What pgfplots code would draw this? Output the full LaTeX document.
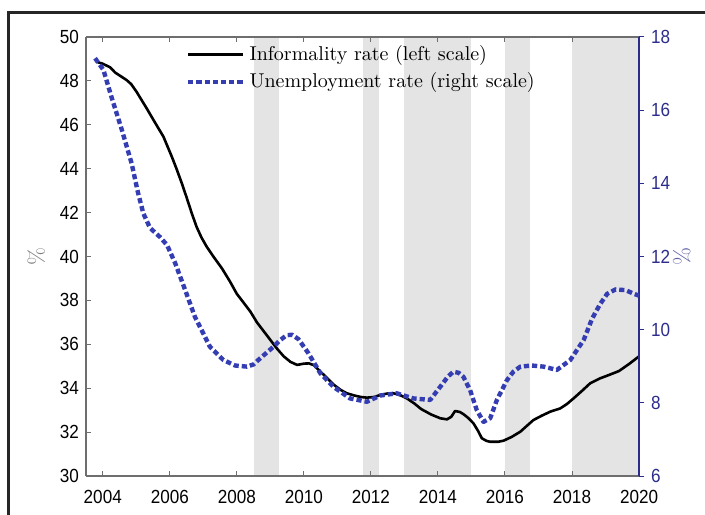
\documentclass[border=0pt]{standalone}
\usepackage{fontspec}
\usepackage{pgfplots}
\pgfplotsset{compat=1.18}
\newfontfamily\tickfont[FakeStretch=0.9]{Liberation Sans}
\definecolor{bandgray}{RGB}{228,228,228}
\definecolor{ublue}{RGB}{52,62,178}
\definecolor{rblue}{RGB}{44,44,140}
\definecolor{axgray}{RGB}{110,110,110}
\begin{document}
\begin{tikzpicture}
\useasboundingbox (-43pt,-19pt) rectangle (309.5pt,238pt);
\draw[line width=1.5pt,black!85] (-38.5pt,-40pt) -- (-38.5pt,231.5pt) -- (330pt,231.5pt);
\begin{axis}[
  scale only axis, width=276.5pt, height=219.5pt,
  at={(0pt,0pt)}, anchor=south west,
  xmin=2003.5, xmax=2020, ymin=30, ymax=50,
  xtick={2004,2006,...,2020}, ytick={30,32,...,50},
  axis y line*=left,
  axis on top,
  tick align=inside, major tick length=2.5pt,
  axis line style={axgray, line width=0.6pt},
  tick style={axgray, line width=0.5pt},
  ticklabel style={font=\tickfont\fontsize{9.5}{11}\selectfont, black},
  xticklabel style={yshift=-3.5pt},
  xtick pos=both, xticklabel pos=bottom,
  x tick label style={/pgf/number format/1000 sep={}},
  /pgf/number format/assume math mode=true,
  ylabel={\%}, ylabel style={font=\fontsize{11}{12}\selectfont, color=gray, rotate=0},
  ylabel shift=0.5pt,
  legend style={at={(0.18,0.99)}, anchor=north west, draw=none, fill=none,
     font=\fontsize{10}{11}\selectfont, row sep=0.5pt, inner xsep=0pt, inner ysep=0pt},
  legend cell align=left,
  legend image code/.code={\draw[#1] (0cm,0cm) -- (0.97cm,0cm);},
]
\fill[bandgray] (axis cs:2008.5,30) rectangle (axis cs:2009.25,50);
\fill[bandgray] (axis cs:2011.75,30) rectangle (axis cs:2012.25,50);
\fill[bandgray] (axis cs:2013.0,30) rectangle (axis cs:2015.0,50);
\fill[bandgray] (axis cs:2016.0,30) rectangle (axis cs:2016.75,50);
\fill[bandgray] (axis cs:2018.0,30) rectangle (axis cs:2020.0,50);
\addplot[black, line width=1.3pt, line join=round] coordinates {
(2003.82,48.87) (2004.0,48.78) (2004.22,48.62) (2004.37,48.38) (2004.55,48.2)
(2004.71,48.04) (2004.85,47.85) (2005.01,47.5) (2005.15,47.15) (2005.31,46.75)
(2005.56,46.1) (2005.81,45.46) (2006.06,44.55) (2006.2,44.0) (2006.36,43.33)
(2006.5,42.7) (2006.66,41.95) (2006.8,41.35) (2006.95,40.85) (2007.1,40.45)
(2007.3,40.0) (2007.56,39.45) (2007.8,38.85) (2008.0,38.3) (2008.2,37.9)
(2008.4,37.5) (2008.6,37.0) (2008.8,36.6) (2009.0,36.2) (2009.2,35.8)
(2009.4,35.45) (2009.6,35.2) (2009.8,35.06) (2010.0,35.12) (2010.15,35.13)
(2010.3,35.05) (2010.5,34.75) (2010.7,34.45) (2010.9,34.15) (2011.1,33.92)
(2011.28,33.77) (2011.5,33.67) (2011.7,33.6) (2011.88,33.57) (2012.1,33.6)
(2012.3,33.7) (2012.5,33.76) (2012.67,33.77) (2012.85,33.7) (2013.07,33.54)
(2013.3,33.3) (2013.5,33.05) (2013.8,32.8) (2014.07,32.63) (2014.27,32.58)
(2014.4,32.7) (2014.51,32.96) (2014.65,32.92) (2014.76,32.82) (2014.9,32.65)
(2015.06,32.4) (2015.2,32.05) (2015.31,31.72) (2015.45,31.6) (2015.56,31.56)
(2015.8,31.56) (2015.96,31.61) (2016.2,31.78) (2016.46,32.02) (2016.65,32.28)
(2016.85,32.55) (2017.1,32.75) (2017.35,32.93) (2017.65,33.08) (2017.85,33.28)
(2018.05,33.54) (2018.3,33.88) (2018.54,34.22) (2018.84,34.45) (2019.1,34.6)
(2019.4,34.78) (2019.7,35.1) (2020.0,35.45)
};
\addlegendentry{Informality rate (left scale)}
\addlegendimage{ublue, line width=2.2pt, dash pattern=on 2.6pt off 1.5pt}
\addlegendentry{Unemployment rate (right scale)}
\end{axis}
\begin{axis}[
  scale only axis, width=276.5pt, height=219.5pt,
  at={(0pt,0pt)}, anchor=south west,
  xmin=2003.5, xmax=2020, ymin=6, ymax=18,
  ytick={6,8,...,18},
  axis y line*=right, axis x line=none,
  tick align=outside, major tick length=2.5pt,
  axis line style={rblue, line width=0.6pt},
  tick style={rblue, line width=0.5pt},
  ticklabel style={font=\tickfont\fontsize{9.5}{11}\selectfont, rblue},
  /pgf/number format/assume math mode=true,
  ylabel={\%}, ylabel style={font=\fontsize{11}{12}\selectfont, color=rblue!75, rotate=180},
  ylabel shift=-5.5pt,
]
\addplot[ublue, line width=2.2pt, dash pattern=on 2.6pt off 1.5pt, line join=round] coordinates {
(2003.77,17.42) (2004.02,17.1) (2004.27,16.33) (2004.57,15.46) (2004.86,14.55)
(2005.05,13.75) (2005.21,13.18) (2005.41,12.78) (2005.71,12.53) (2005.92,12.31)
(2006.16,11.82) (2006.46,11.08) (2006.75,10.35) (2006.9,10.08) (2007.2,9.53)
(2007.6,9.17) (2007.95,9.02) (2008.3,8.99) (2008.5,9.05) (2008.7,9.22)
(2009.09,9.53) (2009.3,9.72) (2009.49,9.85) (2009.65,9.86) (2009.84,9.74)
(2010.14,9.35) (2010.49,8.81) (2010.88,8.44) (2011.38,8.12) (2011.88,8.03)
(2012.28,8.2) (2012.77,8.26) (2013.27,8.12) (2013.77,8.08) (2014.07,8.44)
(2014.3,8.72) (2014.46,8.85) (2014.62,8.82) (2014.76,8.71) (2014.96,8.35)
(2015.16,7.8) (2015.36,7.48) (2015.56,7.58) (2015.76,8.08) (2016.06,8.62)
(2016.25,8.85) (2016.46,8.99) (2016.8,9.02) (2017.15,8.99) (2017.55,8.9)
(2017.95,9.17) (2018.35,9.72) (2018.6,10.3) (2018.84,10.7) (2019.05,10.98)
(2019.3,11.1) (2019.6,11.08) (2019.85,10.98) (2020.0,10.93)
};
\end{axis}
\end{tikzpicture}
\end{document}
